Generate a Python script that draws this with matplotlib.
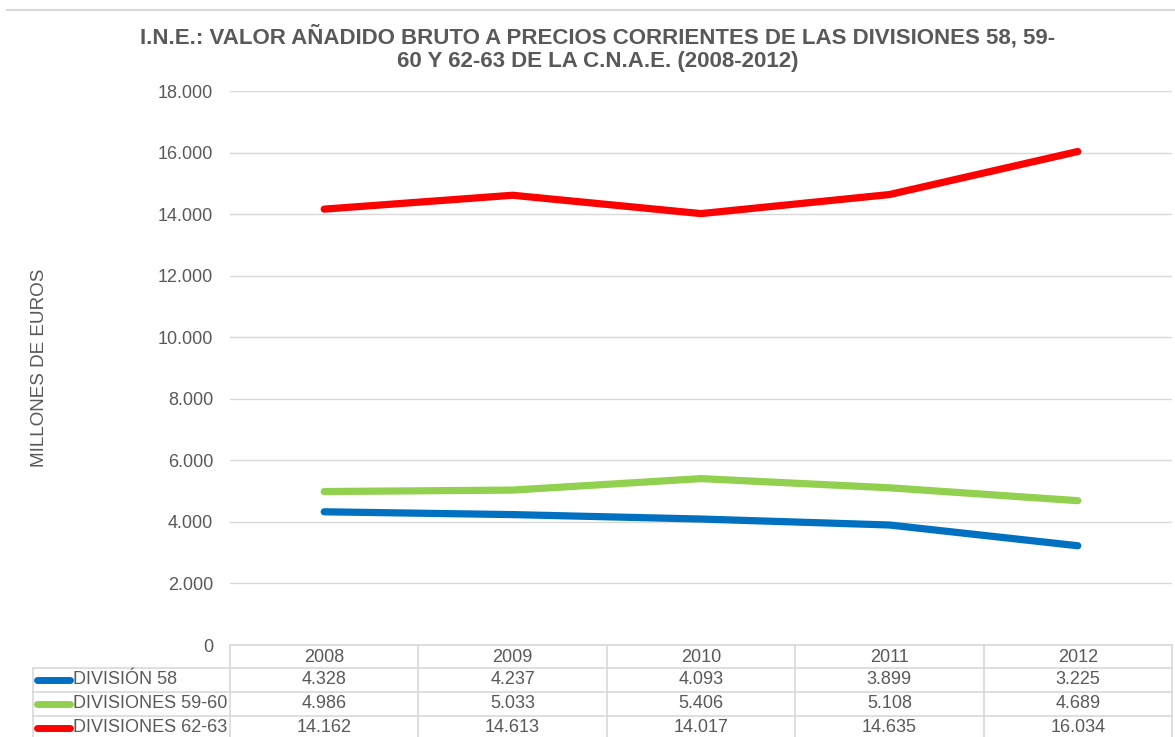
import matplotlib
matplotlib.use("Agg")
import matplotlib.pyplot as plt
import matplotlib.transforms as mtransforms
from matplotlib.lines import Line2D
from matplotlib.ticker import FuncFormatter

plt.rcParams['font.family'] = ['Liberation Sans', 'DejaVu Sans']

years = ["2008", "2009", "2010", "2011", "2012"]
series_names = ["DIVISIÓN 58", "DIVISIONES 59-60", "DIVISIONES 62-63"]
div58 = [4328, 4237, 4093, 3899, 3225]
div5960 = [4986, 5033, 5406, 5108, 4689]
div6263 = [14162, 14613, 14017, 14635, 16034]
series_values = [div58, div5960, div6263]
colors = ["#0070C0", "#92D050", "#FF0000"]

title = "I.N.E.: VALOR AÑADIDO BRUTO A PRECIOS CORRIENTES DE LAS DIVISIONES 58, 59-\n60 Y 62-63 DE LA C.N.A.E. (2008-2012)"
ylabel = "MILLONES DE EUROS"

W, H = 1175, 737
fig = plt.figure(figsize=(W / 100, H / 100), dpi=100)
TXT = "#595959"
GRID = "#d9d9d9"
FS = 13

def fx(px):
    return px / W

def fy(py):
    return 1 - py / H

ax_left, ax_right, ax_top, ax_bot = 230, 1172, 91, 645
ax = fig.add_axes([fx(ax_left), fy(ax_bot), fx(ax_right - ax_left), (ax_bot - ax_top) / H])

xs = list(range(len(years)))
for vals, c in zip(series_values, colors):
    ax.plot(xs, vals, color=c, lw=5.2, solid_capstyle='round', solid_joinstyle='round', zorder=3)

ax.set_xlim(-0.5, len(years) - 0.5)
ax.set_ylim(0, 18000)
ax.set_yticks(range(0, 18001, 2000))
ax.yaxis.set_major_formatter(FuncFormatter(lambda v, p: f"{v:,.0f}".replace(",", ".")))
ax.set_xticks([])
ax.grid(axis='y', color=GRID, lw=1.0)
ax.set_axisbelow(True)
for s in ax.spines.values():
    s.set_visible(False)
ax.tick_params(axis='y', length=0, pad=12, labelsize=FS, labelcolor=TXT)

# Title
fig.text(fx(598), fy(48.5), title, ha='center', va='center', fontsize=16,
         fontweight='bold', color=TXT, linespacing=1.1, multialignment='center')

# Y label
fig.text(fx(40), fy(368), ylabel, rotation=90, ha='center', va='center', fontsize=13.6, color=TXT)

# Top border line
fig.add_artist(Line2D([fx(7), 1], [fy(10), fy(10)], color=GRID, lw=1.5))

# Data table
trans = mtransforms.blended_transform_factory(ax.transData, fig.transFigure)
row_tops = [645, 668, 692, 716, 740]
tbl_left = 33

fig.add_artist(Line2D([fx(ax_left), fx(ax_right)], [fy(645), fy(645)], color=GRID, lw=1.2))
for yy in row_tops[1:4]:
    fig.add_artist(Line2D([fx(tbl_left), fx(ax_right)], [fy(yy), fy(yy)], color=GRID, lw=1.2))
fig.add_artist(Line2D([fx(tbl_left), fx(tbl_left)], [fy(668), fy(740)], color=GRID, lw=1.2))
for k in range(len(years) + 1):
    xk = k - 0.5
    ax.plot([xk, xk], [fy(645), fy(740)], transform=trans, color=GRID, lw=1.2, clip_on=False)

for i, yr in enumerate(years):
    ax.text(i, fy(657), yr, transform=trans, ha='center', va='center', fontsize=FS, color=TXT, clip_on=False)

for r, (name, vals, c) in enumerate(zip(series_names, series_values, colors)):
    yc = (row_tops[r + 1] + row_tops[r + 2]) / 2
    if r == 2:
        yc = 728
    fig.add_artist(Line2D([fx(37), fx(70)], [fy(yc), fy(yc)], color=c, lw=5, solid_capstyle='round'))
    fig.text(fx(73), fy(yc), name, ha='left', va='center', fontsize=FS, color=TXT)
    for i, v in enumerate(vals):
        ax.text(i, fy(yc), f"{v:,.0f}".replace(",", "."), transform=trans, ha='center', va='center',
                fontsize=FS, color=TXT, clip_on=False)

fig.savefig("out.png", dpi=100)
